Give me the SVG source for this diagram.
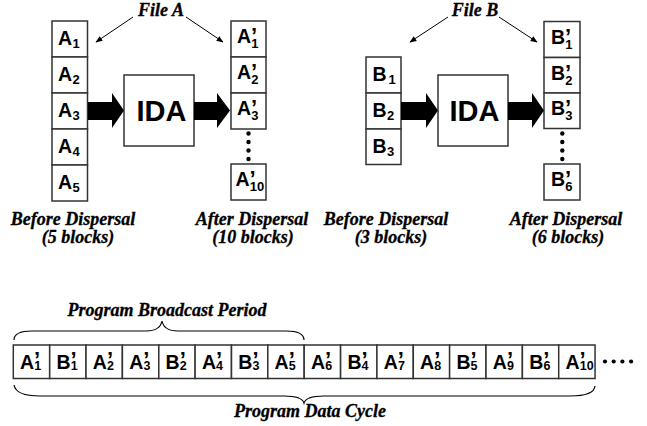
<svg xmlns="http://www.w3.org/2000/svg" width="647" height="426" viewBox="0 0 647 426">
<style>
.box{fill:#fff;stroke:#333;stroke-width:1.5}
.blk{font-family:"Liberation Sans",Arial,sans-serif;font-weight:bold;font-size:19.5px;fill:#000}
.pr{font-size:22px}
.sub{font-size:13px}
.sub2{font-size:12.5px}
.ida{font-family:"Liberation Sans",Arial,sans-serif;font-weight:bold;font-size:29px;fill:#000}
.lbl{font-family:"Liberation Serif","Times New Roman",serif;font-weight:bold;font-style:italic;font-size:18px;fill:#000;stroke:#000;stroke-width:0.3}
.thin{stroke:#000;stroke-width:1;fill:none}
.big{fill:#000}
.brace{stroke:#000;stroke-width:1.2;fill:none}
</style>
<defs>
<marker id="ah" viewBox="0 0 10 10" refX="9" refY="5" markerWidth="7" markerHeight="7" orient="auto" markerUnits="userSpaceOnUse">
<path d="M0,1 L10,5 L0,9 z" fill="#000"/>
</marker>
</defs>

<g id="fileA-label"><text class="lbl" x="161" y="16" text-anchor="middle">File A</text></g>
<g id="fileB-label"><text class="lbl" x="475" y="16" text-anchor="middle">File B</text></g>

<g id="colA">
<rect class="box" x="52" y="21" width="35.5" height="36"/>
<rect class="box" x="52" y="57" width="35.5" height="36"/>
<rect class="box" x="52" y="93" width="35.5" height="36"/>
<rect class="box" x="52" y="129" width="35.5" height="36"/>
<rect class="box" x="52" y="165" width="35.5" height="36"/>
<text class="blk" x="58" y="44.5">A<tspan class="sub" dx="0.5" dy="3.5">1</tspan></text>
<text class="blk" x="58" y="80.5">A<tspan class="sub" dx="0.5" dy="3.5">2</tspan></text>
<text class="blk" x="58" y="116.5">A<tspan class="sub" dx="0.5" dy="3.5">3</tspan></text>
<text class="blk" x="58" y="152.5">A<tspan class="sub" dx="0.5" dy="3.5">4</tspan></text>
<text class="blk" x="58" y="188.5">A<tspan class="sub" dx="0.5" dy="3.5">5</tspan></text>
</g>

<g id="idaA">
<rect class="box" x="124" y="75" width="70" height="71"/>
<text class="ida" x="161.5" y="120.5" text-anchor="middle">IDA</text>
</g>

<g id="colA2">
<rect class="box" x="231" y="21" width="35" height="36"/>
<rect class="box" x="231" y="57" width="35" height="36"/>
<rect class="box" x="231" y="93" width="35" height="36"/>
<rect class="box" x="231" y="164" width="35" height="36"/>
<text class="blk" x="237" y="43">A<tspan class="pr">’</tspan><tspan class="sub" dx="-6" dy="5">1</tspan></text>
<text class="blk" x="237" y="79">A<tspan class="pr">’</tspan><tspan class="sub" dx="-6" dy="5">2</tspan></text>
<text class="blk" x="237" y="115">A<tspan class="pr">’</tspan><tspan class="sub" dx="-6" dy="5">3</tspan></text>
<text class="blk" x="235.5" y="186">A<tspan class="pr">’</tspan><tspan class="sub" dx="-6" dy="5">10</tspan></text>
<circle cx="248.5" cy="133.5" r="2.2"/>
<circle cx="248.5" cy="142" r="2.2"/>
<circle cx="248.5" cy="150.5" r="2.2"/>
<circle cx="248.5" cy="159" r="2.2"/>
</g>

<g id="colB">
<rect class="box" x="366" y="57" width="35" height="36"/>
<rect class="box" x="366" y="93" width="35" height="36"/>
<rect class="box" x="366" y="129" width="35" height="35.5"/>
<text class="blk" x="372.5" y="80.5">B<tspan class="sub" dx="2" dy="3.5">1</tspan></text>
<text class="blk" x="372.5" y="116.5">B<tspan class="sub" dx="0.5" dy="3.5">2</tspan></text>
<text class="blk" x="372.5" y="152.5">B<tspan class="sub" dx="0.5" dy="3.5">3</tspan></text>
</g>

<g id="idaB">
<rect class="box" x="438" y="75" width="70" height="71"/>
<text class="ida" x="474.5" y="120.5" text-anchor="middle">IDA</text>
</g>

<g id="colB2">
<rect class="box" x="544" y="21.5" width="36" height="36"/>
<rect class="box" x="544" y="57.5" width="36" height="35.5"/>
<rect class="box" x="544" y="93" width="36" height="35.5"/>
<rect class="box" x="544" y="164" width="36" height="36"/>
<text class="blk" x="551" y="44">B<tspan class="pr">’</tspan><tspan class="sub" dx="-6" dy="5">1</tspan></text>
<text class="blk" x="551" y="80">B<tspan class="pr">’</tspan><tspan class="sub" dx="-6" dy="5">2</tspan></text>
<text class="blk" x="551" y="115">B<tspan class="pr">’</tspan><tspan class="sub" dx="-6" dy="5">3</tspan></text>
<text class="blk" x="551" y="186">B<tspan class="pr">’</tspan><tspan class="sub" dx="-6" dy="5">6</tspan></text>
<circle cx="562.3" cy="133.5" r="2.2"/>
<circle cx="562.3" cy="142" r="2.2"/>
<circle cx="562.3" cy="150.5" r="2.2"/>
<circle cx="562.3" cy="159" r="2.2"/>
</g>

<g id="labels">
<text class="lbl" x="73" y="225" text-anchor="middle">Before Dispersal</text>
<text class="lbl" x="78" y="243" text-anchor="middle">(5 blocks)</text>
<text class="lbl" x="252" y="225" text-anchor="middle">After Dispersal</text>
<text class="lbl" x="253" y="243" text-anchor="middle">(10 blocks)</text>
<text class="lbl" x="386" y="225" text-anchor="middle">Before Dispersal</text>
<text class="lbl" x="391" y="243" text-anchor="middle">(3 blocks)</text>
<text class="lbl" x="566" y="225" text-anchor="middle">After Dispersal</text>
<text class="lbl" x="568" y="243" text-anchor="middle">(6 blocks)</text>
<text class="lbl" x="167" y="316" text-anchor="middle">Program Broadcast Period</text>
<text class="lbl" x="310" y="417" text-anchor="middle">Program Data Cycle</text>
</g>

<g id="connectors">
<line class="thin" x1="133" y1="17" x2="96" y2="42" marker-end="url(#ah)"/>
<line class="thin" x1="186" y1="17" x2="223" y2="42" marker-end="url(#ah)"/>
<line class="thin" x1="448" y1="17" x2="410" y2="42" marker-end="url(#ah)"/>
<line class="thin" x1="499" y1="17" x2="537" y2="42" marker-end="url(#ah)"/>
<polygon class="big" points="88,102 112,102 112,93 124,110.5 112,128 112,120 88,120"/>
<polygon class="big" points="194,102 217,102 217,93 230,110.5 217,128 217,120 194,120"/>
<polygon class="big" points="401,102 426,102 426,93 438,110.5 426,128 426,120 401,120"/>
<polygon class="big" points="508,102 532,102 532,93 544,110.5 532,128 532,120 508,120"/>
</g>

<g id="sequence">
<rect class="box" x="13.3" y="345" width="36.36" height="33.5"/>
<rect class="box" x="49.7" y="345" width="36.36" height="33.5"/>
<rect class="box" x="86.0" y="345" width="36.36" height="33.5"/>
<rect class="box" x="122.4" y="345" width="36.36" height="33.5"/>
<rect class="box" x="158.8" y="345" width="36.36" height="33.5"/>
<rect class="box" x="195.1" y="345" width="36.36" height="33.5"/>
<rect class="box" x="231.5" y="345" width="36.36" height="33.5"/>
<rect class="box" x="267.8" y="345" width="36.36" height="33.5"/>
<rect class="box" x="304.2" y="345" width="36.36" height="33.5"/>
<rect class="box" x="340.6" y="345" width="36.36" height="33.5"/>
<rect class="box" x="376.9" y="345" width="36.36" height="33.5"/>
<rect class="box" x="413.3" y="345" width="36.36" height="33.5"/>
<rect class="box" x="449.6" y="345" width="36.36" height="33.5"/>
<rect class="box" x="486.0" y="345" width="36.36" height="33.5"/>
<rect class="box" x="522.4" y="345" width="36.36" height="33.5"/>
<rect class="box" x="558.7" y="345" width="36.36" height="33.5"/>
<text class="blk" x="20" y="368.5">A<tspan class="pr" dy="-1.5">’</tspan><tspan class="sub2" dx="-6" dy="3">1</tspan></text>
<text class="blk" x="56.5" y="368.5">B<tspan class="pr" dy="-1.5">’</tspan><tspan class="sub2" dx="-6" dy="3">1</tspan></text>
<text class="blk" x="92.8" y="368.5">A<tspan class="pr" dy="-1.5">’</tspan><tspan class="sub2" dx="-6" dy="3">2</tspan></text>
<text class="blk" x="129.2" y="368.5">A<tspan class="pr" dy="-1.5">’</tspan><tspan class="sub2" dx="-6" dy="3">3</tspan></text>
<text class="blk" x="165.6" y="368.5">B<tspan class="pr" dy="-1.5">’</tspan><tspan class="sub2" dx="-6" dy="3">2</tspan></text>
<text class="blk" x="201.9" y="368.5">A<tspan class="pr" dy="-1.5">’</tspan><tspan class="sub2" dx="-6" dy="3">4</tspan></text>
<text class="blk" x="238.3" y="368.5">B<tspan class="pr" dy="-1.5">’</tspan><tspan class="sub2" dx="-6" dy="3">3</tspan></text>
<text class="blk" x="274.6" y="368.5">A<tspan class="pr" dy="-1.5">’</tspan><tspan class="sub2" dx="-6" dy="3">5</tspan></text>
<text class="blk" x="311" y="368.5">A<tspan class="pr" dy="-1.5">’</tspan><tspan class="sub2" dx="-6" dy="3">6</tspan></text>
<text class="blk" x="347.4" y="368.5">B<tspan class="pr" dy="-1.5">’</tspan><tspan class="sub2" dx="-6" dy="3">4</tspan></text>
<text class="blk" x="383.7" y="368.5">A<tspan class="pr" dy="-1.5">’</tspan><tspan class="sub2" dx="-6" dy="3">7</tspan></text>
<text class="blk" x="420.1" y="368.5">A<tspan class="pr" dy="-1.5">’</tspan><tspan class="sub2" dx="-6" dy="3">8</tspan></text>
<text class="blk" x="456.4" y="368.5">B<tspan class="pr" dy="-1.5">’</tspan><tspan class="sub2" dx="-6" dy="3">5</tspan></text>
<text class="blk" x="492.8" y="368.5">A<tspan class="pr" dy="-1.5">’</tspan><tspan class="sub2" dx="-6" dy="3">9</tspan></text>
<text class="blk" x="529.2" y="368.5">B<tspan class="pr" dy="-1.5">’</tspan><tspan class="sub2" dx="-6" dy="3">6</tspan></text>
<text class="blk" x="565.5" y="368.5">A<tspan class="pr" dy="-1.5">’</tspan><tspan class="sub2" dx="-6" dy="3">10</tspan></text>
<circle cx="605" cy="361.5" r="2.1"/>
<circle cx="613.7" cy="361.5" r="2.1"/>
<circle cx="622.4" cy="361.5" r="2.1"/>
<circle cx="631.1" cy="361.5" r="2.1"/>
</g>

<g id="braces">
<path class="brace" d="M14,340 Q14,331 32,331 L146,331 Q160,331 162,321 Q164,331 178,331 L286,331 Q304,331 304,340"/>
<path class="brace" d="M14,385 Q16,396 40,396 L284,396 Q302,396 304,403 Q306,396 324,396 L570,396 Q594,396 595,386"/>
</g>
</svg>
